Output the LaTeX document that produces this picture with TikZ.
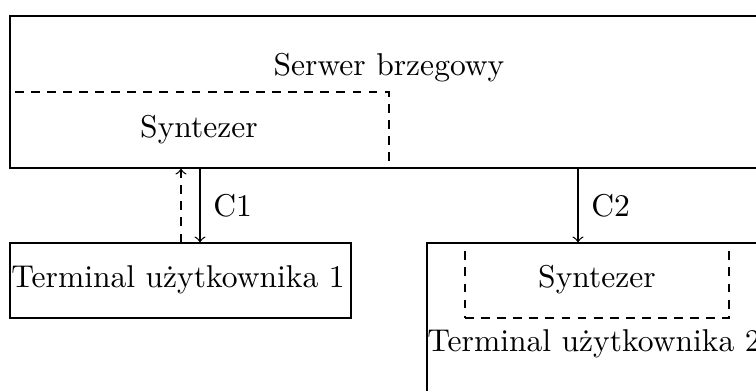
\documentclass[tikz,border=0pt]{standalone}
\usetikzlibrary{arrows,fit}
\begin{document}
\begin{tikzpicture}[x=0.317pt,y=-0.317pt,
  box/.style={draw, line width=0.4pt, inner sep=0pt},
  dline/.style={dash pattern=on 2.8pt off 2.3pt},
  dbox/.style={box, dline},
  lbl/.style={inner sep=0pt, font=\normalsize},
  link/.style={->, >=to, line width=0.4pt}]
\useasboundingbox (0,0) rectangle (756,390);
\clip (0,0) rectangle (756,390);
% edge server with its synthesizer
\node[box, fit={(10,16) (768,168)}] (srv) {};
\node[lbl] (srvtxt) at (389,68) {Serwer brzegowy};
\node[dbox, fit={(10,92) (389,168)}] (syn1) {};
\node[lbl] (syn1txt) at (199,130) {Syntezer};
% user terminal 1
\node[box, fit={(10,243) (351,318)}] (t1) {};
\node[lbl] (t1txt) at (178,280) {Terminal użytkownika 1};
% user terminal 2 with its synthesizer
\node[box, fit={(427,243) (765,420)}] (t2) {};
\node[dbox, fit={(465,243) (729,318)}] (syn2) {};
\node[lbl] (syn2txt) at (597,280) {Syntezer};
\node[lbl] (t2txt) at (594,344) {Terminal użytkownika 2};
% connections
\draw[link] (200,0 |- srv.south) -- node[lbl, right=4pt] (c1) {C1} (200,0 |- t1.north);
\draw[link, dline] (181,0 |- t1.north) -- (181,0 |- syn1.south);
\draw[link] (578,0 |- srv.south) -- node[lbl, right=4pt] (c2) {C2} (578,0 |- t2.north);
\end{tikzpicture}
\end{document}
